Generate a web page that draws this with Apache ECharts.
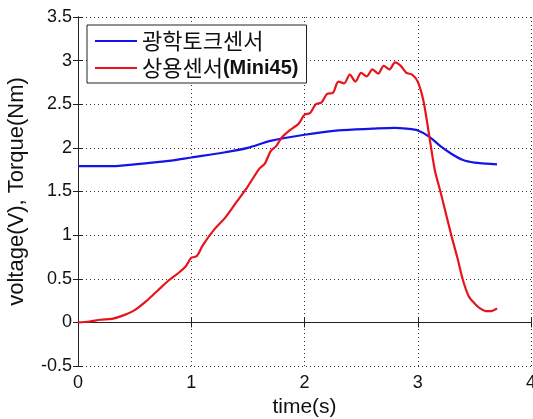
<!DOCTYPE html>
<html>
<head>
<meta charset="utf-8">
<script src="https://cdn.jsdelivr.net/npm/echarts@6/dist/echarts.min.js"></script>
<style>html,body{margin:0;padding:0;background:#fff}#c{width:533px;height:419px}</style>
</head>
<body>
<div id="c"></div>
<script>
var seriesNames = ['광학토크센서', '상용센서(Mini45)'];
var xTicks = [0, 1, 2, 3, 4];
var yTicks = [-0.5, 0, 0.5, 1, 1.5, 2, 2.5, 3, 3.5];
var opticalTime = [0, 0.3, 0.5, 0.8, 1.0, 1.3, 1.5, 1.7, 2.0, 2.3, 2.6, 2.8, 2.9, 3.0, 3.1, 3.2, 3.3, 3.4, 3.5, 3.6, 3.7];
var opticalValue = [1.79, 1.79, 1.81, 1.85, 1.89, 1.95, 2.0, 2.08, 2.15, 2.20, 2.22, 2.23, 2.22, 2.20, 2.13, 2.02, 1.93, 1.86, 1.83, 1.82, 1.81];
var miniTime = [0, 0.1, 0.2, 0.3, 0.4, 0.5, 0.6, 0.7, 0.8, 0.9, 0.95, 1.0, 1.05, 1.1, 1.2, 1.3, 1.4, 1.5, 1.6, 1.65, 1.7, 1.75, 1.8, 1.85, 1.9, 1.95, 2.0, 2.05, 2.1, 2.15, 2.2, 2.25, 2.3, 2.35, 2.4, 2.45, 2.5, 2.55, 2.6, 2.65, 2.7, 2.75, 2.8, 2.85, 2.9, 2.95, 3.0, 3.05, 3.1, 3.15, 3.2, 3.25, 3.3, 3.35, 3.4, 3.45, 3.5, 3.55, 3.6, 3.65, 3.7];
var miniValue = [0.0, 0.01, 0.03, 0.04, 0.08, 0.14, 0.24, 0.36, 0.48, 0.58, 0.64, 0.74, 0.76, 0.88, 1.06, 1.20, 1.38, 1.56, 1.76, 1.82, 1.96, 2.02, 2.12, 2.18, 2.23, 2.28, 2.38, 2.40, 2.50, 2.52, 2.62, 2.63, 2.76, 2.74, 2.84, 2.76, 2.86, 2.82, 2.90, 2.85, 2.94, 2.90, 2.98, 2.94, 2.86, 2.84, 2.76, 2.54, 2.15, 1.75, 1.50, 1.24, 0.98, 0.74, 0.48, 0.30, 0.22, 0.16, 0.13, 0.13, 0.16];

function pairs(xs, ys) { return xs.map(function (x, i) { return [x, ys[i]]; }); }

var font = 'Liberation Sans, Arial, sans-serif';
var chart = echarts.init(document.getElementById('c'), null, {renderer: 'canvas'});
var baseAxisLine = {show: true, lineStyle: {color: '#222', width: 1}};
var tickStyle = {show: true, inside: true, length: 5, lineStyle: {color: '#222'}};
var gridStyle = {show: true, lineStyle: {color: '#333', type: [1, 3], width: 1}};
chart.setOption({
  animation: false,
  backgroundColor: '#fff',
  grid: {left: 78, right: 2, top: 17, bottom: 53, containLabel: false, outerBoundsMode: 'none'},
  legend: {
    orient: 'vertical', left: 87, top: 25,
    padding: [5, 8, 4, 8], itemGap: 5, itemWidth: 42, itemHeight: 2, icon: 'rect',
    borderColor: '#222', borderWidth: 1, backgroundColor: '#fff',
    data: seriesNames,
    formatter: function (n) {
      if (n.indexOf('(') > 0) {
        var i = n.indexOf('(');
        return '{k|' + n.slice(0, i) + '}{b|' + n.slice(i) + '}';
      }
      return '{k|' + n + '}';
    },
    textStyle: {
      color: '#111', fontSize: 22, lineHeight: 22,
      rich: {
        k: {fontFamily: 'Noto Sans CJK KR', fontSize: 22, color: '#111', lineHeight: 22},
        b: {fontFamily: font, fontSize: 20, fontWeight: 'bold', color: '#111', lineHeight: 22}
      }
    }
  },
  xAxis: [{
    type: 'value', min: 0, max: 4, interval: 1,
    name: 'time(s)', nameLocation: 'middle', nameGap: 30,
    nameTextStyle: {fontFamily: font, fontSize: 21, color: '#111'},
    axisLine: baseAxisLine, axisTick: tickStyle, splitLine: gridStyle,
    axisLabel: {fontFamily: font, fontSize: 18, color: '#111', margin: 8,
      formatter: function (v) { return xTicks.indexOf(v) >= 0 ? String(v) : ''; }}
  }, {
    type: 'value', min: 0, max: 4, interval: 1, position: 'top',
    axisLine: baseAxisLine, axisTick: tickStyle, splitLine: {show: false}, axisLabel: {show: false}
  }],
  yAxis: [{
    type: 'value', min: -0.5, max: 3.5, interval: 0.5,
    name: 'voltage(V), Torque(Nm)', nameLocation: 'middle', nameGap: 50, nameRotate: 90,
    nameTextStyle: {fontFamily: font, fontSize: 22, color: '#111'},
    axisLine: baseAxisLine, axisTick: tickStyle, splitLine: gridStyle,
    axisLabel: {fontFamily: font, fontSize: 18, color: '#111', margin: 6,
      formatter: function (v) { return yTicks.indexOf(v) >= 0 ? String(v) : ''; }}
  }, {
    type: 'value', min: -0.5, max: 3.5, interval: 0.5, position: 'right',
    axisLine: baseAxisLine, axisTick: tickStyle, splitLine: {show: false}, axisLabel: {show: false}
  }],
  series: [{
    name: seriesNames[0], type: 'line', symbol: 'none', smooth: 0.3,
    lineStyle: {color: '#1414e6', width: 2.2}, itemStyle: {color: '#1414e6'},
    data: pairs(opticalTime, opticalValue)
  }, {
    name: seriesNames[1], type: 'line', symbol: 'none', smooth: 0.3,
    lineStyle: {color: '#e8141c', width: 2.2}, itemStyle: {color: '#e8141c'},
    data: pairs(miniTime, miniValue)
  }]
});
</script>
</body>
</html>
